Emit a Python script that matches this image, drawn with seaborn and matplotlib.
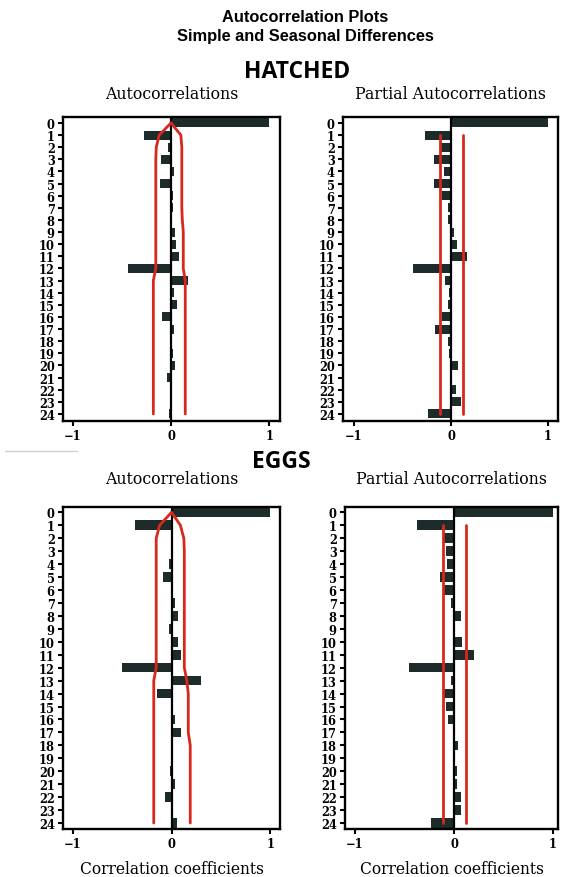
import matplotlib
matplotlib.use("Agg")
import matplotlib.pyplot as plt
import seaborn as sns
import pandas as pd
from matplotlib.lines import Line2D

# ---------------- data ----------------
lags = list(range(25))

hatched_acf = [1.0, -0.27, -0.03, -0.10, 0.03, -0.11, 0.02, 0.02, 0.01, 0.04,
               0.05, 0.08, -0.44, 0.17, 0.03, 0.06, -0.09, 0.03, 0.01, 0.02,
               0.04, -0.04, -0.01, -0.01, -0.02]
hatched_pacf = [1.0, -0.27, -0.10, -0.17, -0.07, -0.17, -0.09, -0.035, -0.035, 0.035,
                0.06, 0.17, -0.39, -0.06, -0.02, -0.035, -0.09, -0.16, -0.035, -0.02,
                0.075, 0.005, 0.05, 0.10, -0.24]
eggs_acf = [1.0, -0.37, 0.02, -0.01, -0.03, -0.085, 0.02, 0.04, 0.07, -0.03,
            0.07, 0.10, -0.50, 0.30, -0.15, 0.02, 0.035, 0.10, 0.0, -0.01,
            -0.02, 0.04, -0.07, 0.01, 0.06]
eggs_pacf = [1.0, -0.37, -0.10, -0.085, -0.07, -0.145, -0.10, -0.035, 0.07, -0.005,
             0.085, 0.20, -0.455, -0.035, -0.10, -0.085, -0.06, -0.01, 0.045, -0.005,
             0.035, 0.035, 0.07, 0.07, -0.235]

# ACF confidence bands (lower / upper) by lag
hatched_acf_lo = [0, -0.12, -0.15, -0.155, -0.155, -0.155, -0.155, -0.155, -0.155, -0.155,
                  -0.155, -0.155, -0.155, -0.18, -0.18, -0.18, -0.18, -0.18, -0.18, -0.18,
                  -0.18, -0.18, -0.18, -0.18, -0.18]
hatched_acf_hi = [0, 0.10, 0.11, 0.11, 0.11, 0.11, 0.11, 0.11, 0.115, 0.125,
                  0.125, 0.125, 0.125, 0.145, 0.145, 0.145, 0.145, 0.145, 0.145, 0.145,
                  0.145, 0.145, 0.145, 0.145, 0.145]
eggs_acf_lo = [0, -0.12, -0.155, -0.155, -0.155, -0.155, -0.155, -0.155, -0.155, -0.155,
               -0.155, -0.155, -0.155, -0.18, -0.18, -0.18, -0.18, -0.18, -0.18, -0.18,
               -0.18, -0.18, -0.18, -0.18, -0.18]
eggs_acf_hi = [0, 0.09, 0.125, 0.13, 0.13, 0.13, 0.13, 0.13, 0.13, 0.13,
               0.13, 0.13, 0.13, 0.155, 0.17, 0.17, 0.17, 0.17, 0.19, 0.19,
               0.19, 0.19, 0.19, 0.19, 0.19]
# PACF constant bands (lower, upper)
hatched_pacf_ci = (-0.11, 0.12)
eggs_pacf_ci = (-0.11, 0.12)

suptitle = "Autocorrelation Plots\nSimple and Seasonal Differences"
group_titles = ["HATCHED", "EGGS"]
panel_titles = ["Autocorrelations", "Partial Autocorrelations"]
xlabel = "Correlation coefficients"
xticks = [-1, 0, 1]

# ---------------- style ----------------
sns.set_style("white")
plt.rcParams["font.family"] = ["DejaVu Serif", "DejaVu Sans"]
for k in ["text.color", "axes.labelcolor", "xtick.color", "ytick.color", "axes.edgecolor"]:
    plt.rcParams[k] = "black"
BAR = "#1d2b2b"
RED = "#d8281e"

W, H = 563, 878
fig = plt.figure(figsize=(W / 100, H / 100), dpi=100)

def px_axes(l, r, t, b):
    return fig.add_axes([l / W, 1 - b / H, (r - l) / W, (b - t) / H])

axes = [
    px_axes(63, 280, 118, 422),
    px_axes(343, 558, 118, 422),
    px_axes(63, 280, 508, 830),
    px_axes(345, 558, 508, 830),
]
xlims = [(-1.10, 1.11), (-1.113, 1.103), (-1.10, 1.10), (-1.10, 1.05)]
ylims = [(24.58, -0.49), (24.58, -0.49), (24.46, -0.41), (24.46, -0.41)]
values = [hatched_acf, hatched_pacf, eggs_acf, eggs_pacf]
bands = [(hatched_acf_lo, hatched_acf_hi), hatched_pacf_ci,
         (eggs_acf_lo, eggs_acf_hi), eggs_pacf_ci]

for i, ax in enumerate(axes):
    df = pd.DataFrame({"lag": [str(l) for l in lags], "r": values[i]})
    sns.barplot(data=df, x="r", y="lag", order=[str(l) for l in lags], orient="h",
                color=BAR, saturation=1, width=0.74, edgecolor="none", ax=ax)
    ax.axvline(0, color="black", lw=1.6, zorder=3)
    lo, hi = bands[i]
    if i % 2 == 0:
        sns.lineplot(x=lo, y=lags, sort=False, estimator=None, color=RED, lw=2.0, ax=ax, zorder=4)
        sns.lineplot(x=hi, y=lags, sort=False, estimator=None, color=RED, lw=2.0, ax=ax, zorder=4)
    else:
        ax.plot([lo, lo], [lags[1], lags[-1]], color=RED, lw=2.0, zorder=4)
        ax.plot([hi, hi], [lags[1], lags[-1]], color=RED, lw=2.0, zorder=4)
    ax.set_xlim(*xlims[i])
    ax.set_ylim(*ylims[i])
    ax.set_xticks(xticks)
    ax.set_xticklabels(["\u22121", "0", "1"])
    ax.set_yticks(range(len(lags)))
    ax.set_yticklabels([str(l) for l in lags])
    ax.set_ylabel("")
    ax.set_xlabel(xlabel if i >= 2 else "", fontsize=11.2, labelpad=7)
    for s in ax.spines.values():
        s.set_visible(True)
        s.set_color("black")
        s.set_linewidth(1.7)
    ax.tick_params(axis="both", which="major", direction="out", length=3.5, width=1.5,
                   color="black", labelsize=8.3, pad=2.5, left=True, bottom=True)
    for lab in ax.get_xticklabels() + ax.get_yticklabels():
        lab.set_fontweight("bold")
    ax.set_title(panel_titles[i % 2], fontsize=11.3, pad=(14 if i < 2 else 17))

fig.text(305 / W, 1 - 27 / H, suptitle, ha="center", va="center", fontsize=11.8,
         fontweight="bold", family=["Liberation Sans", "DejaVu Sans"], linespacing=1.25)
fig.text(297 / W, 1 - 72 / H, group_titles[0], ha="center", va="center", fontsize=16.5,
         fontweight="bold", family=["Open Sans", "DejaVu Sans"])
fig.text(281 / W, 1 - 462 / H, group_titles[1], ha="center", va="center", fontsize=16.5,
         fontweight="bold", family=["Open Sans", "DejaVu Sans"])
fig.add_artist(Line2D([5 / W, 77 / W], [1 - 452 / H, 1 - 452 / H], color="#d0d0d0", lw=1))

fig.savefig("out.png", dpi=100)
